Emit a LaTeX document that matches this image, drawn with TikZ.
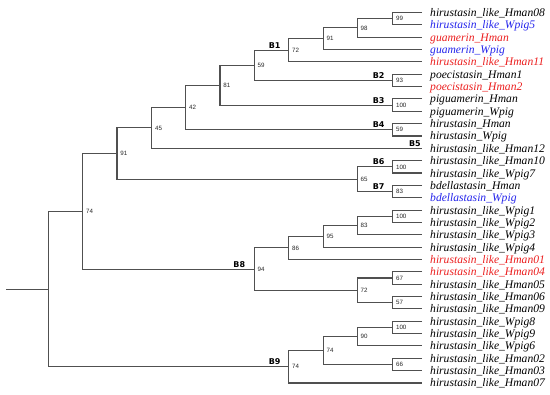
\documentclass[tikz,border=0pt]{standalone}
\usepackage{fontspec}
\setmainfont{Liberation Serif}
\newfontfamily\bsfont{Liberation Sans}
\newfontfamily\blfont{DejaVu Sans}
\definecolor{treered}{RGB}{235,30,30}
\definecolor{treeblue}{RGB}{35,35,235}
\definecolor{branch}{RGB}{80,80,80}
\begin{document}
\begin{tikzpicture}[x=1pt,y=-1pt,
 br/.style={draw=branch,line width=1.1pt},
 leaf/.style={anchor=base west,inner sep=0pt,font=\fontsize{11.6}{12}\selectfont\itshape},
 bs/.style={anchor=west,inner sep=0pt,font=\bsfont\fontsize{6.2}{7}\selectfont,text=black!85},
 blab/.style={anchor=base east,inner sep=0pt,font=\blfont\bfseries\fontsize{8}{9}\selectfont},
 red/.style={text=treered},blue/.style={text=treeblue}]
\useasboundingbox (0,0) rectangle (550,395);
% leaf line ends
\coordinate (l1) at (422,12.5);
\coordinate (l2) at (422,24.85);
\coordinate (l3) at (422,37.2);
\coordinate (l4) at (422,49.55);
\coordinate (l5) at (422,61.9);
\coordinate (l6) at (422,74.25);
\coordinate (l7) at (422,86.6);
\coordinate (l8) at (422,98.95);
\coordinate (l9) at (422,111.3);
\coordinate (l10) at (422,123.65);
\coordinate (l11) at (422,136.0);
\coordinate (l12) at (422,148.35);
\coordinate (l13) at (422,160.7);
\coordinate (l14) at (422,173.05);
\coordinate (l15) at (422,185.4);
\coordinate (l16) at (422,197.75);
\coordinate (l17) at (422,210.1);
\coordinate (l18) at (422,222.45);
\coordinate (l19) at (422,234.8);
\coordinate (l20) at (422,247.15);
\coordinate (l21) at (422,259.5);
\coordinate (l22) at (422,271.85);
\coordinate (l23) at (422,284.2);
\coordinate (l24) at (422,296.55);
\coordinate (l25) at (422,308.9);
\coordinate (l26) at (422,321.25);
\coordinate (l27) at (422,333.6);
\coordinate (l28) at (422,345.95);
\coordinate (l29) at (422,358.3);
\coordinate (l30) at (422,370.65);
\coordinate (l31) at (422,383.0);
% leaf labels
\node[leaf] (t1) at (430,16.5) {hirustasin\_like\_Hman08};
\node[leaf,blue] (t2) at (430,28.85) {hirustasin\_like\_Wpig5};
\node[leaf,red] (t3) at (430,41.2) {guamerin\_Hman};
\node[leaf,blue] (t4) at (430,53.55) {guamerin\_Wpig};
\node[leaf,red] (t5) at (430,65.9) {hirustasin\_like\_Hman11};
\node[leaf] (t6) at (430,78.25) {poecistasin\_Hman1};
\node[leaf,red] (t7) at (430,90.6) {poecistasin\_Hman2};
\node[leaf] (t8) at (430,102.95) {piguamerin\_Hman};
\node[leaf] (t9) at (430,115.3) {piguamerin\_Wpig};
\node[leaf] (t10) at (430,127.65) {hirustasin\_Hman};
\node[leaf] (t11) at (430,140.0) {hirustasin\_Wpig};
\node[leaf] (t12) at (430,152.35) {hirustasin\_like\_Hman12};
\node[leaf] (t13) at (430,164.7) {hirustasin\_like\_Hman10};
\node[leaf] (t14) at (430,177.05) {hirustasin\_like\_Wpig7};
\node[leaf] (t15) at (430,189.4) {bdellastasin\_Hman};
\node[leaf,blue] (t16) at (430,201.75) {bdellastasin\_Wpig};
\node[leaf] (t17) at (430,214.1) {hirustasin\_like\_Wpig1};
\node[leaf] (t18) at (430,226.45) {hirustasin\_like\_Wpig2};
\node[leaf] (t19) at (430,238.8) {hirustasin\_like\_Wpig3};
\node[leaf] (t20) at (430,251.15) {hirustasin\_like\_Wpig4};
\node[leaf,red] (t21) at (430,263.5) {hirustasin\_like\_Hman01};
\node[leaf,red] (t22) at (430,275.85) {hirustasin\_like\_Hman04};
\node[leaf] (t23) at (430,288.2) {hirustasin\_like\_Hman05};
\node[leaf] (t24) at (430,300.55) {hirustasin\_like\_Hman06};
\node[leaf] (t25) at (430,312.9) {hirustasin\_like\_Hman09};
\node[leaf] (t26) at (430,325.25) {hirustasin\_like\_Wpig8};
\node[leaf] (t27) at (430,337.6) {hirustasin\_like\_Wpig9};
\node[leaf] (t28) at (430,349.95) {hirustasin\_like\_Wpig6};
\node[leaf] (t29) at (430,362.3) {hirustasin\_like\_Hman02};
\node[leaf] (t30) at (430,374.65) {hirustasin\_like\_Hman03};
\node[leaf] (t31) at (430,387.0) {hirustasin\_like\_Hman07};
% internal nodes
\coordinate (n99) at (392.7,18.68);
\coordinate (n98) at (357.3,27.94);
\coordinate (n91a) at (323.3,38.74);
\coordinate (n72a) at (288.7,50.32);
\coordinate (n93) at (392.7,80.43);
\coordinate (n59) at (254.3,65.37);
\coordinate (n100a) at (392.7,105.13);
\coordinate (n81) at (220,85.25);
\coordinate (n59b) at (392.7,129.83);
\coordinate (n42) at (185.7,107.54);
\coordinate (n45) at (151.7,127.94);
\coordinate (n100b) at (392.7,166.88);
\coordinate (n83a) at (392.7,191.58);
\coordinate (n65) at (357.3,179.23);
\coordinate (n91b) at (117,153.58);
\coordinate (n100c) at (392.7,216.28);
\coordinate (n83b) at (357.3,225.54);
\coordinate (n95) at (323.3,236.34);
\coordinate (n86) at (288.7,247.92);
\coordinate (n67) at (392.7,278.03);
\coordinate (n57) at (392.7,302.73);
\coordinate (n72b) at (357.3,290.38);
\coordinate (n94) at (254.3,269.15);
\coordinate (n74a) at (82.7,211.37);
\coordinate (n100d) at (392.7,327.43);
\coordinate (n90) at (357.3,336.69);
\coordinate (n66) at (392.7,364.48);
\coordinate (n74c) at (323.3,350.58);
\coordinate (n74b) at (288.7,366.79);
\coordinate (root) at (48.3,289.08);
\coordinate (stem) at (6,289.08);
% branches
\draw[br] (l1) -| (n99) |- (l2);
\draw[br] (n99) -| (n98) |- (l3);
\draw[br] (n98) -| (n91a) |- (l4);
\draw[br] (n91a) -| (n72a) |- (l5);
\draw[br] (l6) -| (n93) |- (l7);
\draw[br] (n72a) -| (n59) |- (n93);
\draw[br] (l8) -| (n100a) |- (l9);
\draw[br] (n59) -| (n81) |- (n100a);
\draw[br] (l10) -| (n59b) |- (l11);
\draw[br] (n81) -| (n42) |- (n59b);
\draw[br] (n42) -| (n45) |- (l12);
\draw[br] (l13) -| (n100b) |- (l14);
\draw[br] (l15) -| (n83a) |- (l16);
\draw[br] (n100b) -| (n65) |- (n83a);
\draw[br] (n45) -| (n91b) |- (n65);
\draw[br] (l17) -| (n100c) |- (l18);
\draw[br] (n100c) -| (n83b) |- (l19);
\draw[br] (n83b) -| (n95) |- (l20);
\draw[br] (n95) -| (n86) |- (l21);
\draw[br] (l22) -| (n67) |- (l23);
\draw[br] (l24) -| (n57) |- (l25);
\draw[br] (n67) -| (n72b) |- (n57);
\draw[br] (n86) -| (n94) |- (n72b);
\draw[br] (n91b) -| (n74a) |- (n94);
\draw[br] (l26) -| (n100d) |- (l27);
\draw[br] (n100d) -| (n90) |- (l28);
\draw[br] (l29) -| (n66) |- (l30);
\draw[br] (n90) -| (n74c) |- (n66);
\draw[br] (n74c) -| (n74b) |- (l31);
\draw[br] (n74a) -| (root) |- (n74b);
\draw[br] (stem) -- (root);
% bootstrap values
\node[bs] (b1) at ([xshift=3.2pt]n99) {99};
\node[bs] (b2) at ([xshift=3.2pt]n98) {98};
\node[bs] (b3) at ([xshift=3.2pt]n91a) {91};
\node[bs] (b4) at ([xshift=3.2pt]n72a) {72};
\node[bs] (b5) at ([xshift=3.2pt]n93) {93};
\node[bs] (b6) at ([xshift=3.2pt]n59) {59};
\node[bs] (b7) at ([xshift=3.2pt]n100a) {100};
\node[bs] (b8) at ([xshift=3.2pt]n81) {81};
\node[bs] (b9) at ([xshift=3.2pt]n59b) {59};
\node[bs] (b10) at ([xshift=3.2pt]n42) {42};
\node[bs] (b11) at ([xshift=3.2pt]n45) {45};
\node[bs] (b12) at ([xshift=3.2pt]n100b) {100};
\node[bs] (b13) at ([xshift=3.2pt]n83a) {83};
\node[bs] (b14) at ([xshift=3.2pt]n65) {65};
\node[bs] (b15) at ([xshift=3.2pt]n91b) {91};
\node[bs] (b16) at ([xshift=3.2pt]n100c) {100};
\node[bs] (b17) at ([xshift=3.2pt]n83b) {83};
\node[bs] (b18) at ([xshift=3.2pt]n95) {95};
\node[bs] (b19) at ([xshift=3.2pt]n86) {86};
\node[bs] (b20) at ([xshift=3.2pt]n67) {67};
\node[bs] (b21) at ([xshift=3.2pt]n57) {57};
\node[bs] (b22) at ([xshift=3.2pt]n72b) {72};
\node[bs] (b23) at ([xshift=3.2pt]n94) {94};
\node[bs] (b24) at ([xshift=3.2pt]n74a) {74};
\node[bs] (b25) at ([xshift=3.2pt]n100d) {100};
\node[bs] (b26) at ([xshift=3.2pt]n90) {90};
\node[bs] (b27) at ([xshift=3.2pt]n66) {66};
\node[bs] (b28) at ([xshift=3.2pt]n74c) {74};
\node[bs] (b29) at ([xshift=3.2pt]n74b) {74};
% clade labels
\node[blab] (B1) at ([xshift=-8pt,yshift=2pt]n72a) {B1};
\node[blab] (B2) at ([xshift=-8pt,yshift=2pt]n93) {B2};
\node[blab] (B3) at ([xshift=-8pt,yshift=2pt]n100a) {B3};
\node[blab] (B4) at ([xshift=-8pt,yshift=2pt]n59b) {B4};
\node[blab] (B5) at ([xshift=-1pt,yshift=2pt]l12) {B5};
\node[blab] (B6) at ([xshift=-8pt,yshift=2pt]n100b) {B6};
\node[blab] (B7) at ([xshift=-8pt,yshift=2pt]n83a) {B7};
\node[blab] (B8) at ([xshift=-9pt,yshift=2pt]n94) {B8};
\node[blab] (B9) at ([xshift=-8pt,yshift=2pt]n74b) {B9};
\end{tikzpicture}
\end{document}
